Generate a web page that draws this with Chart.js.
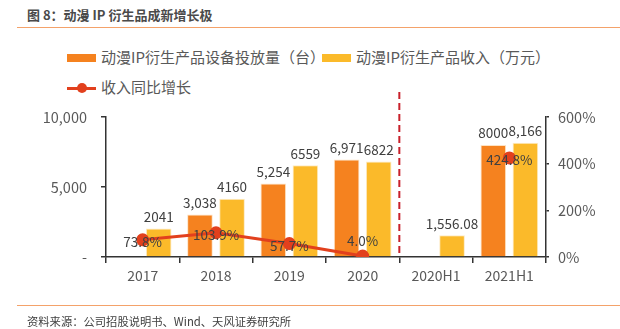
<!DOCTYPE html>
<html>
<head>
<meta charset="utf-8">
<script src="https://cdn.jsdelivr.net/npm/chart.js@4"></script>
<style>
  body { margin: 0; background: #fff; }
  #wrap { position: relative; width: 620px; height: 329px; overflow: hidden;
          font-family: "Noto Sans CJK SC", "Noto Sans", sans-serif; }
  #chart { position: absolute; left: 0; top: 0; }
  .title { position: absolute; left: 27px; top: 5px; font-size: 13px; font-weight: bold; color: #4a4a4a; }
  .rule { position: absolute; left: 17px; right: 0; height: 1px; background: #f4a26a; }
  .source { position: absolute; left: 27px; top: 313px; font-size: 11.3px; color: #404040; }
  .leg { position: absolute; font-size: 15px; color: #595959; line-height: 18px; }
  .leg .box { position: absolute; left: -34px; top: 6px; width: 29px; height: 8px; }
  .leg .ln { position: absolute; left: -34px; top: 9px; width: 29px; height: 3px; background: #e2401d; }
  .leg .dot { position: absolute; left: -24px; top: 5px; width: 10px; height: 10px; border-radius: 50%; background: #e2401d; }
</style>
</head>
<body>
<div id="wrap">
  <div class="title">图 8：动漫 IP 衍生品成新增长极</div>
  <div class="rule" style="top:27px"></div>
  <div class="leg" style="left:101px; top:48px"><span class="box" style="background:#f5821f"></span>动漫IP衍生产品设备投放量（台）</div>
  <div class="leg" style="left:356px; top:48px"><span class="box" style="background:#fbba2a"></span>动漫IP衍生产品收入（万元）</div>
  <div class="leg" style="left:101px; top:78px"><span class="ln"></span><span class="dot"></span>收入同比增长</div>
  <canvas id="chart" width="620" height="329"></canvas>
  <div class="rule" style="top:305px"></div>
  <div class="source">资料来源：公司招股说明书、Wind、天风证券研究所</div>
</div>
<script>
const categories = ["2017", "2018", "2019", "2020", "2020H1", "2021H1"];
const deviceCount = [null, 3038, 5254, 6971, null, 8000];
const deviceText = ["", "3,038", "5,254", "6,971", "", "8000"];
const revenue = [2041, 4160, 6559, 6822, 1556.08, 8166];
const revenueText = ["2041", "4160", "6559", "6822", "1,556.08", "8,166"];
const revenueGrowth = [73.8, 103.9, 57.7, 4.0, null, 424.8];
const leftTicks = [0, 5000, 10000];
const rightTicks = [0, 200, 400, 600];

const ORANGE = '#f5821f';
const YELLOW = '#fbba2a';
const RED = '#e2401d';
const AXIS = '#333333';
const TXT = '#595959';
const FONT = '"Noto Sans CJK SC", "Noto Sans", sans-serif';

// value labels + dashed divider
const labelPlugin = {
    id: 'labels',
    afterDatasetsDraw(chart) {
        const ctx = chart.ctx;
        const x = chart.scales.x;
        ctx.save();

        // divider between annual and half-year data
        const xd = (x.getPixelForValue(3) + x.getPixelForValue(4)) / 2;
        ctx.strokeStyle = '#c8202a';
        ctx.lineWidth = 2;
        ctx.setLineDash([7, 4]);
        ctx.beginPath();
        ctx.moveTo(xd, 92);
        ctx.lineTo(xd, chart.chartArea.bottom);
        ctx.stroke();
        ctx.setLineDash([]);

        ctx.font = '13.5px ' + FONT;
        ctx.fillStyle = '#404040';
        ctx.textAlign = 'center';

        const texts = [deviceText, revenueText];
        [0, 1].forEach(di => {
            chart.getDatasetMeta(di).data.forEach((bar, i) => {
                if (!texts[di][i]) return;
                ctx.textBaseline = 'bottom';
                ctx.fillText(texts[di][i], bar.x, bar.y - 5);
            });
        });

        chart.getDatasetMeta(2).data.forEach((pt, i) => {
            const v = revenueGrowth[i];
            if (v === null) return;
            ctx.textBaseline = 'middle';
            const y = v < 20 ? pt.y - 15 : pt.y + 2;
            ctx.fillText(v.toFixed(1) + '%', pt.x, y);
        });
        ctx.restore();
    }
};

new Chart(document.getElementById('chart'), {
    data: {
        labels: categories,
        datasets: [
            {
                type: 'bar',
                data: deviceCount,
                backgroundColor: ORANGE,
                borderColor: '#fde3c4',
                borderWidth: 1,
                yAxisID: 'y',
                categoryPercentage: 0.875,
                barPercentage: 0.8,
                order: 2
            },
            {
                type: 'bar',
                data: revenue,
                backgroundColor: YELLOW,
                borderColor: '#fdebc4',
                borderWidth: 1,
                yAxisID: 'y',
                categoryPercentage: 0.875,
                barPercentage: 0.8,
                order: 2
            },
            {
                type: 'line',
                data: revenueGrowth,
                borderColor: RED,
                backgroundColor: RED,
                borderWidth: 3,
                pointRadius: 5,
                pointHoverRadius: 5,
                spanGaps: false,
                yAxisID: 'y1',
                order: 1
            }
        ]
    },
    options: {
        responsive: false,
        animation: false,
        layout: { padding: { top: 117, left: 0, right: 0, bottom: 0 } },
        plugins: {
            legend: { display: false },
            tooltip: { enabled: false }
        },
        scales: {
            x: {
                offset: true,
                grid: { display: true, drawOnChartArea: false, offset: true, tickLength: 6, color: AXIS, lineWidth: 1.5 },
                border: { display: true, color: AXIS, width: 1.5 },
                ticks: { color: TXT, font: { family: FONT, size: 14 }, padding: 4, maxRotation: 0 },
                afterFit: s => { s.height = 72; }
            },
            y: {
                position: 'left',
                min: 0,
                max: 10000,
                afterBuildTicks: s => { s.ticks = leftTicks.map(v => ({ value: v })); },
                grid: { display: true, drawOnChartArea: false, tickLength: 5, color: AXIS, lineWidth: 1.5 },
                border: { display: true, color: AXIS, width: 1.5 },
                ticks: {
                    color: TXT,
                    font: { family: FONT, size: 14.5 },
                    padding: 14,
                    callback: v => v === 0 ? '-' : v.toLocaleString('en-US')
                },
                afterFit: s => { s.width = 106; }
            },
            y1: {
                position: 'right',
                min: 0,
                max: 600,
                afterBuildTicks: s => { s.ticks = rightTicks.map(v => ({ value: v })); },
                grid: { display: true, drawOnChartArea: false, tickLength: 3, color: AXIS, lineWidth: 1.5 },
                border: { display: true, color: AXIS, width: 1.5 },
                ticks: {
                    color: TXT,
                    font: { family: FONT, size: 14.5 },
                    padding: 9,
                    callback: v => v + '%'
                },
                afterFit: s => { s.width = 74; }
            }
        }
    },
    plugins: [labelPlugin]
});
</script>
</body>
</html>
